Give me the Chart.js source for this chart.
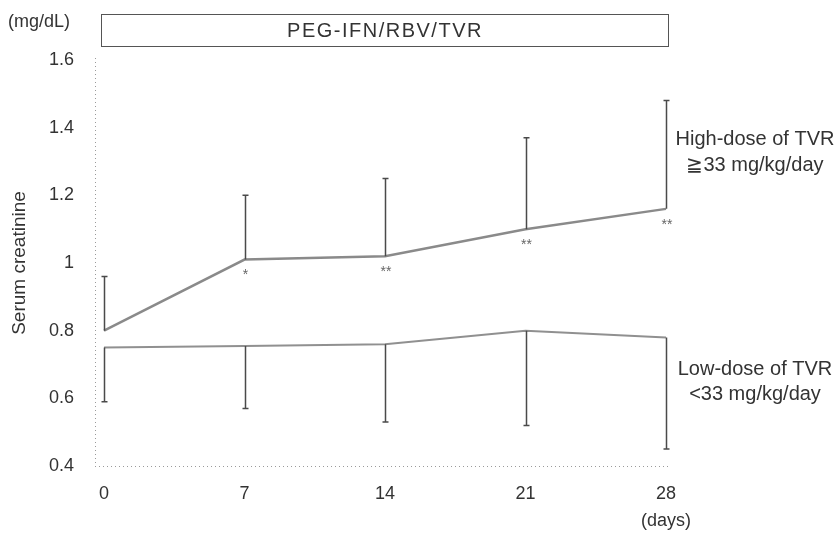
<!DOCTYPE html>
<html>
<head>
<meta charset="utf-8">
<script src="https://cdn.jsdelivr.net/npm/chart.js@4/dist/chart.umd.min.js"></script>
<style>
  html, body { margin: 0; padding: 0; background: #fff; }
  #wrap { width: 840px; height: 533px; }
</style>
</head>
<body>
<div id="wrap"><canvas id="c" width="840" height="533"></canvas></div>
<script>
// Serum creatinine (mg/dL) over the first 28 days of PEG-IFN/RBV/TVR
const days = [0, 7, 14, 21, 28];
const highDoseMean = [0.80, 1.01, 1.02, 1.10, 1.16];
const highDoseUpperSD = [0.96, 1.20, 1.25, 1.37, 1.48];
const lowDoseMean = [0.75, 0.755, 0.76, 0.80, 0.78];
const lowDoseLowerSD = [0.59, 0.57, 0.53, 0.52, 0.45];
const highDoseMarks = ['', '*', '**', '**', '**'];
const yTickValues = [0.4, 0.6, 0.8, 1.0, 1.2, 1.4, 1.6];
const xTickValues = [0, 7, 14, 21, 28];

const FONT = '"Liberation Sans", Arial, Helvetica, sans-serif';
const TEXT = '#333333';

// Dotted axis lines along the left and bottom of the plot area
const dottedAxes = {
  id: 'dottedAxes',
  beforeDatasetsDraw(chart) {
    const { ctx, chartArea: { left, right, top, bottom } } = chart;
    ctx.save();
    ctx.strokeStyle = '#9a9a9a';
    ctx.lineWidth = 1;
    ctx.setLineDash([1, 3]);
    ctx.beginPath();
    ctx.moveTo(left + 0.5, top - 2);
    ctx.lineTo(left + 0.5, bottom);
    ctx.moveTo(left, bottom + 0.5);
    ctx.lineTo(right, bottom + 0.5);
    ctx.stroke();
    ctx.restore();
  }
};

// One-sided SD bars, significance marks and surrounding labels
const annotate = {
  id: 'annotate',
  afterDatasetsDraw(chart) {
    const { ctx, chartArea, scales: { x, y } } = chart;
    ctx.save();

    // error bars
    ctx.strokeStyle = '#4a4a4a';
    ctx.lineWidth = 1.5;
    const bar = (d, from, to) => {
      const px = Math.round(x.getPixelForValue(d)) + 0.5;
      const y0 = y.getPixelForValue(from);
      const y1 = y.getPixelForValue(to);
      ctx.beginPath();
      ctx.moveTo(px, y0);
      ctx.lineTo(px, y1);
      ctx.moveTo(px - 3, y1);
      ctx.lineTo(px + 3, y1);
      ctx.stroke();
    };
    days.forEach((d, i) => {
      bar(d, highDoseMean[i], highDoseUpperSD[i]);
      bar(d, lowDoseMean[i], lowDoseLowerSD[i]);
    });

    // significance marks below the high-dose line
    ctx.fillStyle = '#666';
    ctx.font = '14px ' + FONT;
    ctx.textAlign = 'center';
    ctx.textBaseline = 'middle';
    days.forEach((d, i) => {
      if (!highDoseMarks[i]) return;
      ctx.fillText(highDoseMarks[i], x.getPixelForValue(d) + 1, y.getPixelForValue(highDoseMean[i]) + 16);
    });

    // treatment box
    ctx.strokeStyle = '#555';
    ctx.lineWidth = 1;
    const bx = chartArea.left + 6.5, bw = chartArea.right - chartArea.left - 6;
    ctx.strokeRect(bx, 14.5, bw, 32);
    ctx.fillStyle = TEXT;
    ctx.font = '20px ' + FONT;
    ctx.letterSpacing = '1.5px';
    ctx.fillText('PEG-IFN/RBV/TVR', bx + bw / 2, 31);
    ctx.letterSpacing = '0px';

    // unit label
    ctx.textAlign = 'left';
    ctx.font = '18px ' + FONT;
    ctx.fillText('(mg/dL)', 8, 22);

    // time unit
    ctx.textAlign = 'center';
    ctx.fillText('(days)', x.getPixelForValue(28), 521);

    // group labels
    const gx = chartArea.right + 87;
    ctx.font = '20px ' + FONT;
    ctx.fillText('High-dose of TVR', gx, 139);
    ctx.fillText('\u2267' + '33 mg/kg/day', gx, 165);
    ctx.fillText('Low-dose of TVR', gx, 369);
    ctx.fillText('<33 mg/kg/day', gx, 394);

    ctx.restore();
  }
};

new Chart(document.getElementById('c'), {
  type: 'line',
  data: {
    datasets: [
      {
        label: 'High-dose of TVR',
        data: days.map((d, i) => ({ x: d, y: highDoseMean[i] })),
        borderColor: '#8a8a8a',
        borderWidth: 2.5,
        pointRadius: 0,
        tension: 0
      },
      {
        label: 'Low-dose of TVR',
        data: days.map((d, i) => ({ x: d, y: lowDoseMean[i] })),
        borderColor: '#909090',
        borderWidth: 2,
        pointRadius: 0,
        tension: 0
      }
    ]
  },
  options: {
    responsive: false,
    devicePixelRatio: 1,
    animation: false,
    layout: { padding: { top: 60, right: 172, left: 0, bottom: 0 } },
    plugins: {
      legend: { display: false },
      tooltip: { enabled: false }
    },
    scales: {
      x: {
        type: 'linear',
        min: -0.45,
        max: 28.1,
        afterBuildTicks(scale) { scale.ticks = xTickValues.map(v => ({ value: v })); },
        afterFit(scale) { scale.height = 67; },
        grid: { display: false, drawTicks: false },
        border: { display: false },
        ticks: { color: TEXT, font: { family: FONT, size: 18 }, padding: 17, maxRotation: 0 }
      },
      y: {
        min: 0.4,
        max: 1.6,
        afterBuildTicks(scale) { scale.ticks = yTickValues.map(v => ({ value: v })); },
        afterFit(scale) { scale.width = 95; },
        grid: { display: false, drawTicks: false },
        border: { display: false },
        ticks: {
          color: TEXT,
          font: { family: FONT, size: 18 },
          padding: 21,
          callback: v => String(+Number(v).toFixed(1))
        },
        title: {
          display: true,
          text: 'Serum creatinine',
          color: TEXT,
          font: { family: FONT, size: 19 },
          padding: { top: 8, bottom: 0 }
        }
      }
    }
  },
  plugins: [dottedAxes, annotate]
});
</script>
</body>
</html>
